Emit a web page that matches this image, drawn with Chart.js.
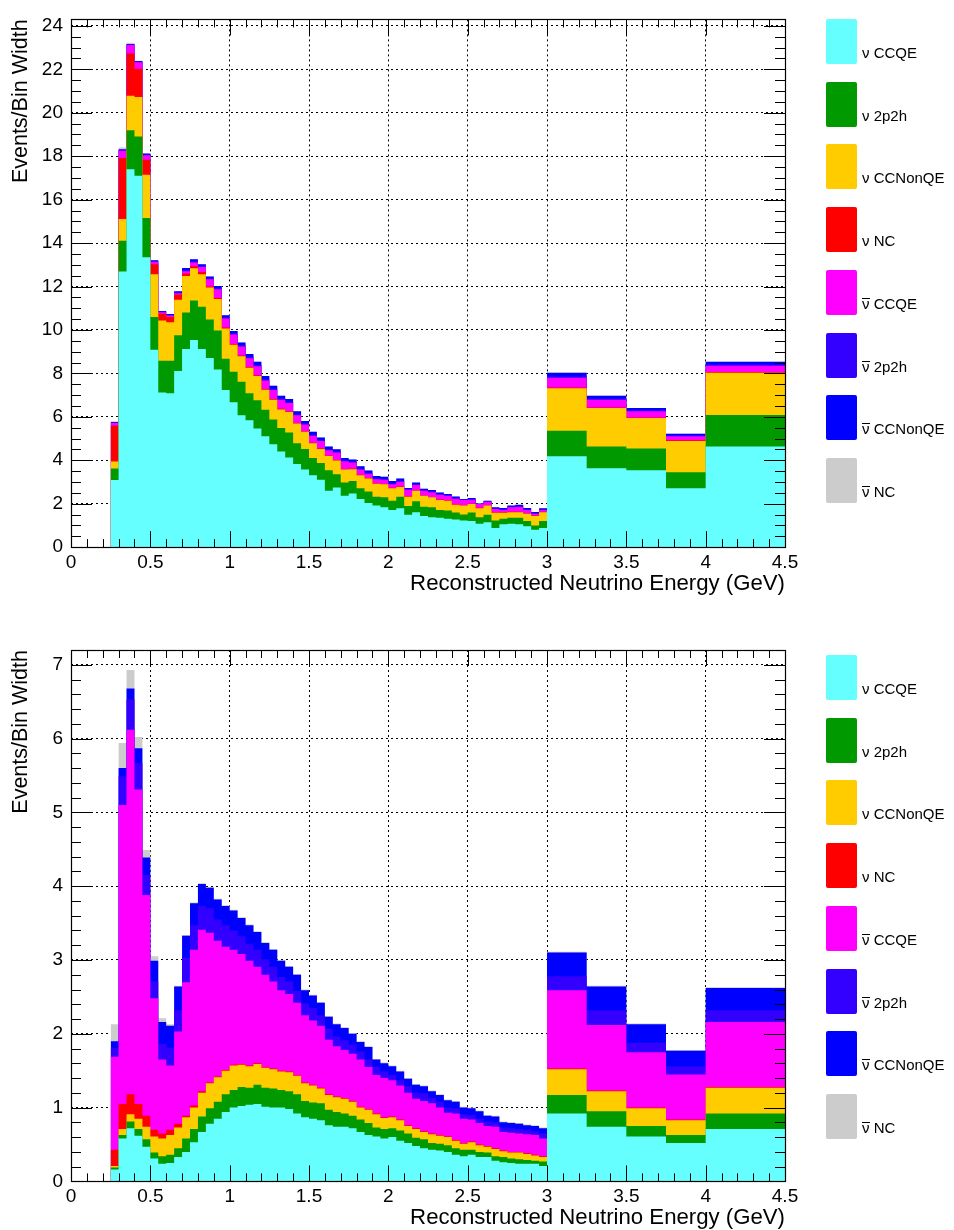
<!DOCTYPE html>
<html>
<head>
<meta charset="utf-8">
<script src="https://cdn.jsdelivr.net/npm/chart.js@4/dist/chart.umd.min.js"></script>
<style>
  html, body { margin: 0; padding: 0; background: #fff; }
  #wrap { position: relative; width: 954px; height: 1230px; overflow: hidden;
          font-family: "Liberation Sans", Arial, sans-serif; }
  .panel { position: absolute; left: 0; width: 954px; height: 615px; }
  .panel canvas { position: absolute; left: 0; top: 0; }
  .legend { position: absolute; left: 826px; width: 128px; }
  .item { position: absolute; left: 0; width: 128px; height: 45px; }
  .swatch { position: absolute; left: 0; top: 0; width: 31px; height: 45px; border-radius: 2px; }
  .label { position: absolute; left: 36px; bottom: 4px; font-size: 15px; line-height: 15px;
           color: #000; white-space: nowrap; }
  .bar { display: inline-block; border-top: 1.6px solid #000; line-height: 9px; }
</style>
</head>
<body>
<div id="wrap">
  <div class="panel" style="top:0px"><canvas id="fhc" width="954" height="615"></canvas><div class="legend" id="legFhc" style="top:19px"></div></div>
  <div class="panel" style="top:615px"><canvas id="rhc" width="954" height="615"></canvas><div class="legend" id="legRhc" style="top:40px"></div></div>
</div>
<script>
// Bin edges of the reconstructed-energy histogram (GeV)
const binEdges = [0.25,0.30,0.35,0.40,0.45,0.50,0.55,0.60,0.65,0.70,0.75,0.80,0.85,0.90,0.95,
  1.00,1.05,1.10,1.15,1.20,1.25,1.30,1.35,1.40,1.45,1.50,1.55,1.60,1.65,1.70,1.75,1.80,1.85,1.90,1.95,
  2.00,2.05,2.10,2.15,2.20,2.25,2.30,2.35,2.40,2.45,2.50,2.55,2.60,2.65,2.70,2.75,2.80,2.85,2.90,2.95,
  3.00,3.25,3.50,3.75,4.00,4.50];

// Stack components, bottom to top
const componentText = ['CCQE','2p2h','CCNonQE','NC','CCQE','2p2h','CCNonQE','NC'];
const componentAnti = [false,false,false,false,true,true,true,true];
const componentColors = ['#66ffff','#009900','#ffcc00','#ff0000','#ff00ff','#3300ff','#0000ff','#cccccc'];

// Neutrino-mode beam: events per bin width
const fhcNuCCQE = [3.09,12.69,17.40,17.10,13.35,9.09,7.12,7.09,8.11,9.12,9.54,9.12,8.71,8.18,7.23,6.67,6.07,5.84,5.46,5.11,4.74,4.40,4.13,3.83,3.57,3.31,3.10,2.59,2.74,2.36,2.47,2.21,2.03,1.91,1.83,1.71,1.79,1.49,1.61,1.43,1.38,1.35,1.30,1.27,1.23,1.20,1.08,1.15,0.88,1.05,1.08,1.05,0.96,0.80,0.88,4.18,3.63,3.54,2.71,4.63];
const fhcNu2p2h = [0.53,1.42,1.79,1.81,1.80,1.51,1.46,1.49,1.65,1.68,1.82,1.95,1.77,1.79,1.44,1.41,1.54,1.24,1.30,1.21,1.14,1.09,1.15,0.95,0.95,0.79,0.77,0.95,0.61,0.62,0.57,0.50,0.53,0.41,0.46,0.43,0.53,0.40,0.50,0.43,0.45,0.36,0.38,0.32,0.27,0.39,0.30,0.34,0.35,0.25,0.27,0.30,0.24,0.20,0.32,1.18,1.00,1.00,0.74,1.45];
const fhcNuCCNonQE = [0.32,1.00,1.59,1.82,2.00,1.97,1.86,1.77,1.63,1.68,1.48,1.50,1.48,1.46,1.40,1.24,1.18,1.18,1.12,0.93,0.91,0.85,0.94,0.91,0.79,0.68,0.65,0.65,0.64,0.59,0.55,0.60,0.60,0.60,0.60,0.57,0.45,0.43,0.48,0.50,0.46,0.46,0.46,0.36,0.41,0.39,0.41,0.42,0.35,0.28,0.26,0.26,0.33,0.43,0.41,1.96,1.77,1.40,1.44,1.95];
const fhcNuNC = [1.66,2.81,1.95,1.30,0.69,0.45,0.31,0.25,0.24,0.12,0.09,0.10,0.04,0.04,0.04,0.03,0.03,0.03,0.03,0.03,0.03,0.03,0.02,0.02,0.02,0.02,0.02,0.02,0.02,0.02,0.02,0.02,0.02,0.02,0.02,0.02,0.02,0.02,0.02,0.02,0.02,0.02,0.02,0.02,0.02,0.02,0.02,0.02,0.02,0.02,0.02,0.02,0.02,0.02,0.02,0.03,0.03,0.03,0.03,0.03];
const fhcNubarCCQE = [0.12,0.33,0.39,0.30,0.20,0.12,0.06,0.06,0.06,0.10,0.18,0.23,0.33,0.40,0.42,0.44,0.42,0.41,0.42,0.39,0.41,0.41,0.39,0.36,0.31,0.33,0.35,0.25,0.35,0.36,0.29,0.24,0.20,0.18,0.19,0.16,0.22,0.30,0.25,0.21,0.22,0.22,0.20,0.26,0.24,0.18,0.17,0.16,0.16,0.11,0.21,0.22,0.16,0.08,0.08,0.45,0.35,0.28,0.19,0.29];
const fhcNubar2p2h = [0.02,0.03,0.02,0.02,0.03,0.02,0.02,0.02,0.03,0.05,0.05,0.04,0.04,0.05,0.05,0.05,0.06,0.06,0.06,0.06,0.06,0.06,0.06,0.05,0.05,0.05,0.04,0.05,0.04,0.04,0.04,0.04,0.04,0.04,0.04,0.04,0.04,0.03,0.04,0.04,0.04,0.04,0.03,0.04,0.02,0.03,0.01,0.02,0.03,0.04,0.03,0.04,0.03,0.03,0.03,0.07,0.06,0.05,0.04,0.06];
const fhcNubarCCNonQE = [0.02,0.04,0.03,0.03,0.05,0.05,0.04,0.05,0.06,0.10,0.10,0.09,0.09,0.10,0.10,0.11,0.12,0.13,0.14,0.15,0.14,0.13,0.13,0.13,0.12,0.13,0.12,0.12,0.11,0.11,0.09,0.11,0.11,0.11,0.10,0.11,0.11,0.05,0.07,0.06,0.06,0.06,0.05,0.06,0.02,0.05,0.02,0.03,0.04,0.05,0.05,0.06,0.06,0.06,0.05,0.16,0.13,0.10,0.07,0.12];
const fhcNubarNC = [0.03,0.08,0.05,0.02,0.01,0.01,0,0,0,0,0,0,0,0,0,0,0,0,0,0,0,0,0,0,0,0,0,0,0,0,0,0,0,0,0,0,0,0,0,0,0,0,0,0,0,0,0,0,0,0,0,0,0,0,0,0,0,0,0,0];

// Antineutrino-mode beam: events per bin width
const rhcNuCCQE = [0.16,0.58,0.72,0.62,0.47,0.31,0.24,0.25,0.33,0.40,0.53,0.67,0.78,0.85,0.94,1.00,1.02,1.04,1.05,1.01,1.00,1.00,0.98,0.92,0.87,0.85,0.83,0.76,0.74,0.74,0.72,0.67,0.63,0.61,0.58,0.60,0.55,0.52,0.48,0.45,0.43,0.42,0.40,0.36,0.34,0.36,0.33,0.33,0.28,0.26,0.25,0.24,0.24,0.24,0.21,0.92,0.74,0.61,0.52,0.71];
const rhcNu2p2h = [0.03,0.05,0.09,0.09,0.10,0.08,0.10,0.11,0.12,0.18,0.18,0.21,0.21,0.23,0.24,0.24,0.26,0.23,0.26,0.26,0.26,0.24,0.24,0.26,0.22,0.22,0.23,0.21,0.20,0.18,0.17,0.17,0.16,0.12,0.13,0.12,0.14,0.13,0.11,0.12,0.09,0.09,0.09,0.09,0.09,0.07,0.07,0.06,0.06,0.07,0.06,0.06,0.05,0.04,0.06,0.25,0.21,0.14,0.11,0.21];
const rhcNuCCNonQE = [0.02,0.08,0.10,0.14,0.17,0.22,0.24,0.27,0.28,0.29,0.29,0.32,0.34,0.33,0.32,0.33,0.30,0.29,0.28,0.27,0.26,0.25,0.26,0.25,0.24,0.23,0.20,0.20,0.20,0.20,0.19,0.16,0.18,0.18,0.15,0.15,0.14,0.10,0.12,0.10,0.12,0.11,0.11,0.10,0.08,0.10,0.09,0.08,0.10,0.08,0.08,0.09,0.08,0.07,0.06,0.35,0.27,0.24,0.20,0.35];
const rhcNuNC = [0.22,0.34,0.27,0.20,0.15,0.09,0.07,0.07,0.05,0.02,0.03,0.02,0.01,0.01,0.01,0.01,0.01,0.01,0.01,0.01,0.01,0.01,0.01,0.01,0.01,0.01,0.01,0.01,0.01,0.01,0.01,0.01,0.01,0.01,0.01,0.01,0.01,0.01,0.01,0.01,0.01,0.01,0.01,0.01,0.01,0.01,0.01,0.01,0.01,0.01,0.01,0.01,0.01,0.01,0.01,0.01,0.01,0.01,0.01,0.01];
const rhcNubarCCQE = [1.26,4.05,4.94,4.26,2.99,1.78,1.00,0.87,1.25,1.81,2.11,2.19,2.03,1.84,1.67,1.56,1.49,1.42,1.31,1.25,1.18,1.09,1.05,0.98,0.91,0.87,0.84,0.74,0.68,0.65,0.64,0.64,0.57,0.52,0.53,0.49,0.46,0.44,0.40,0.41,0.41,0.37,0.32,0.36,0.33,0.30,0.29,0.27,0.29,0.25,0.26,0.25,0.26,0.27,0.24,1.06,0.89,0.75,0.61,0.88];
const rhcNubar2p2h = [0.12,0.39,0.41,0.36,0.27,0.23,0.21,0.24,0.29,0.33,0.33,0.32,0.33,0.29,0.29,0.26,0.24,0.23,0.23,0.21,0.20,0.18,0.17,0.16,0.16,0.17,0.14,0.15,0.13,0.13,0.12,0.11,0.10,0.11,0.09,0.07,0.07,0.09,0.08,0.10,0.07,0.08,0.07,0.07,0.06,0.06,0.06,0.06,0.06,0.06,0.06,0.06,0.06,0.05,0.07,0.19,0.20,0.13,0.11,0.16];
const rhcNubarCCNonQE = [0.09,0.11,0.15,0.20,0.24,0.28,0.30,0.30,0.32,0.30,0.30,0.30,0.28,0.27,0.26,0.27,0.25,0.25,0.24,0.22,0.23,0.22,0.20,0.22,0.18,0.17,0.17,0.16,0.17,0.17,0.15,0.13,0.17,0.10,0.11,0.12,0.12,0.10,0.11,0.10,0.09,0.09,0.10,0.09,0.09,0.09,0.10,0.08,0.08,0.07,0.07,0.07,0.06,0.07,0.07,0.32,0.32,0.25,0.21,0.30];
const rhcNubarNC = [0.23,0.34,0.25,0.15,0.10,0.06,0.05,0.02,0.01,0.01,0.01,0.01,0.01,0.01,0.01,0.01,0.01,0.01,0.01,0.01,0.01,0.01,0.01,0.01,0.01,0.01,0.01,0.01,0.01,0.01,0.01,0.01,0.01,0.01,0.01,0.01,0.01,0.01,0.01,0.01,0.01,0.01,0.01,0.01,0.01,0.01,0.01,0.01,0.01,0.01,0.01,0.01,0.01,0.01,0.01,0.01,0.01,0.01,0.01,0.01];

const fhcSeries = [fhcNuCCQE, fhcNu2p2h, fhcNuCCNonQE, fhcNuNC, fhcNubarCCQE, fhcNubar2p2h, fhcNubarCCNonQE, fhcNubarNC];
const rhcSeries = [rhcNuCCQE, rhcNu2p2h, rhcNuCCNonQE, rhcNuNC, rhcNubarCCQE, rhcNubar2p2h, rhcNubarCCNonQE, rhcNubarNC];

const FONT = "'Liberation Sans', Arial, Helvetica, sans-serif";
Chart.defaults.font.family = FONT;
Chart.defaults.color = '#000';

// Histogram outline as (x, y) pairs: flat top over each bin
function stepPoints(edges, vals) {
  const pts = [];
  for (let i = 0; i < vals.length; i++) {
    pts.push({ x: edges[i], y: vals[i] });
    pts.push({ x: edges[i + 1], y: vals[i] });
  }
  return pts;
}

// Running totals so each layer is filled from the axis up to its stack height
function stackedDatasets(series) {
  const running = new Array(binEdges.length - 1).fill(0);
  return series.map((vals, k) => {
    const cum = vals.map((v, i) => (running[i] += v));
    return {
      data: stepPoints(binEdges, cum.slice()),
      backgroundColor: componentColors[k],
      borderColor: 'transparent',
      borderWidth: 0,
      pointRadius: 0,
      fill: 'origin',
      tension: 0
    };
  });
}

// Frame and inward tick marks on all four sides
const frameTicks = {
  id: 'frameTicks',
  afterDraw(chart, args, o) {
    const { ctx, chartArea: a, scales: { x, y } } = chart;
    ctx.save();
    ctx.strokeStyle = '#000';
    ctx.lineWidth = 1;
    ctx.beginPath();
    const nx = Math.round((x.max - x.min) / o.xMinor);
    for (let i = 0; i <= nx; i++) {
      const v = x.min + i * o.xMinor;
      const r = v / o.xMajor;
      const major = Math.abs(r - Math.round(r)) < 1e-6;
      const len = major ? o.xMajorLen : o.xMinorLen;
      const px = Math.round(x.getPixelForValue(v)) + 0.5;
      ctx.moveTo(px, a.bottom); ctx.lineTo(px, a.bottom - len);
      ctx.moveTo(px, a.top); ctx.lineTo(px, a.top + len);
    }
    const ny = Math.floor((y.max - y.min) / o.yMinor + 1e-6);
    for (let i = 0; i <= ny; i++) {
      const v = y.min + i * o.yMinor;
      const r = v / o.yMajor;
      const major = Math.abs(r - Math.round(r)) < 1e-6;
      const len = major ? o.yMajorLen : o.yMinorLen;
      const py = Math.round(y.getPixelForValue(v)) + 0.5;
      ctx.moveTo(a.left, py); ctx.lineTo(a.left + len, py);
      ctx.moveTo(a.right, py); ctx.lineTo(a.right - len, py);
    }
    ctx.stroke();
    ctx.lineWidth = 1.2;
    ctx.strokeRect(Math.round(a.left) + 0.5, Math.round(a.top) + 0.5,
                   Math.round(a.right - a.left), Math.round(a.bottom - a.top));
    ctx.restore();
  }
};

const tickText = v => String(+Number(v).toFixed(2));

function makeChart(id, series, yMax, yStep, yMinor, padTop, padBottom) {
  return new Chart(document.getElementById(id), {
    type: 'line',
    data: { datasets: stackedDatasets(series) },
    plugins: [frameTicks],
    options: {
      responsive: false,
      animation: false,
      events: [],
      layout: { padding: { left: 0, right: 169, top: padTop, bottom: padBottom } },
      plugins: {
        legend: { display: false },
        tooltip: { enabled: false },
        filler: { propagate: false },
        frameTicks: {
          xMinor: 0.1, xMajor: 0.5, xMajorLen: 16, xMinorLen: 8,
          yMinor: yMinor, yMajor: yStep, yMajorLen: 21, yMinorLen: 10
        }
      },
      scales: {
        x: {
          type: 'linear', min: 0, max: 4.5,
          afterFit: s => { s.height = 48; },
          ticks: { stepSize: 0.5, includeBounds: false, padding: 4, maxRotation: 0,
                   autoSkip: false, font: { size: 19 }, callback: tickText },
          grid: { color: '#000', lineWidth: 1, drawTicks: false },
          border: { display: false, dash: [2, 3] },
          title: { display: true, text: 'Reconstructed Neutrino Energy (GeV)', align: 'end',
                   font: { size: 22.2, lineHeight: 1 }, padding: { top: 0, bottom: 0 } }
        },
        y: {
          type: 'linear', min: 0, max: yMax,
          afterFit: s => { s.width = 71; },
          ticks: { stepSize: yStep, includeBounds: false, padding: 8,
                   font: { size: 19 }, callback: tickText },
          grid: { color: '#000', lineWidth: 1, drawTicks: false },
          border: { display: false, dash: [2, 3] },
          title: { display: true, text: 'Events/Bin Width', align: 'end',
                   font: { size: 21.5, lineHeight: 1 }, padding: { top: 10.5, bottom: 0 } }
        }
      }
    }
  });
}

makeChart('fhc', fhcSeries, 24.3, 2, 0.5, 11.3, 19.9);
makeChart('rhc', rhcSeries, 7.2, 1, 0.2, 35.0, 0.6);

// Legend boxes beside each panel
function buildLegend(id) {
  const box = document.getElementById(id);
  componentText.forEach((t, k) => {
    const item = document.createElement('div');
    item.className = 'item';
    item.style.top = (k * 62.7) + 'px';
    const sw = document.createElement('div');
    sw.className = 'swatch';
    sw.style.background = componentColors[k];
    const lab = document.createElement('div');
    lab.className = 'label';
    const nu = document.createElement('span');
    nu.textContent = 'ν';
    if (componentAnti[k]) nu.className = 'bar';
    lab.appendChild(nu);
    lab.appendChild(document.createTextNode(' ' + t));
    item.appendChild(sw);
    item.appendChild(lab);
    box.appendChild(item);
  });
}
buildLegend('legFhc');
buildLegend('legRhc');
</script>
</body>
</html>
